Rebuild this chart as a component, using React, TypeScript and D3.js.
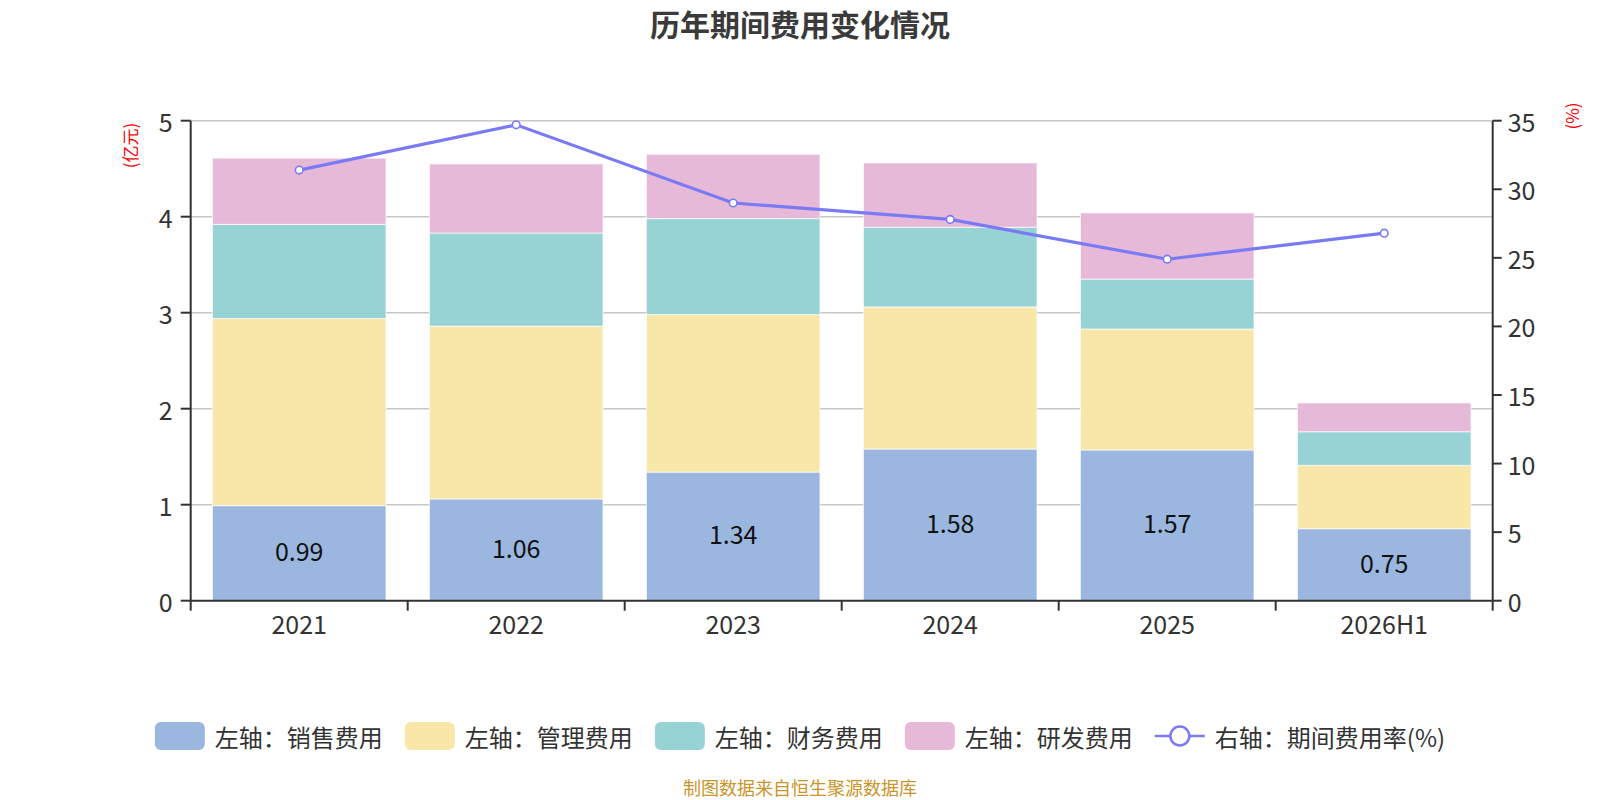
import React, { useEffect, useRef } from 'react';
import * as d3 from 'd3';

// categories and series (亿元 / %)
const years = ['2021', '2022', '2023', '2024', '2025', '2026H1'];
const salesCost = [0.99, 1.06, 1.34, 1.58, 1.57, 0.75];
const mgmtCost = [1.95, 1.8, 1.64, 1.48, 1.26, 0.66];
const financeCost = [0.98, 0.97, 1.0, 0.83, 0.52, 0.35];
const rdCost = [0.69, 0.72, 0.67, 0.67, 0.69, 0.3];
const expenseRate = [31.4, 34.7, 29.0, 27.8, 24.9, 26.8];

const leftTicks = [0, 1, 2, 3, 4, 5];
const rightTicks = [0, 5, 10, 15, 20, 25, 30, 35];

const seriesNames = ['左轴：销售费用', '左轴：管理费用', '左轴：财务费用', '左轴：研发费用'];
const lineName = '右轴：期间费用率(%)';
const colors = ['#9bb7e0', '#f8e7a8', '#97d3d4', '#e7b9d8'];
const lineColor = '#7a7af5';

const FONT = '"Noto Sans CJK SC", "Noto Sans", sans-serif';

const App: React.FC = () => {
  const svgRef = useRef<SVGSVGElement>(null);

  useEffect(() => {
    const svg = d3.select(svgRef.current);
    svg.selectAll('*').remove();

    const left = 190.7;
    const right = 1492.7;
    const top = 120.7;
    const bottom = 600.7;

    const x = d3.scaleBand<string>()
      .domain(years)
      .range([left, right])
      .paddingInner(0.2)
      .paddingOuter(0.1);
    const xTick = d3.scaleBand<string>().domain(years).range([left, right]);

    const yL = d3.scaleLinear().domain([0, 5]).range([bottom, top]);
    const yR = d3.scaleLinear().domain([0, 35]).range([bottom, top]);

    // title
    svg.append('text')
      .attr('x', 800)
      .attr('y', 23)
      .attr('text-anchor', 'middle')
      .attr('dominant-baseline', 'central')
      .style('font-family', FONT)
      .style('font-size', '30px')
      .style('font-weight', 'bold')
      .style('fill', '#3a3a3a')
      .text('历年期间费用变化情况');

    // grid lines
    svg.append('g')
      .selectAll('line')
      .data(leftTicks.slice(1))
      .enter()
      .append('line')
      .attr('x1', left)
      .attr('x2', right)
      .attr('y1', d => yL(d))
      .attr('y2', d => yL(d))
      .attr('stroke', '#c8c8c8')
      .attr('stroke-width', 1.6);

    // stacked bars
    const rows = years.map((yr, i) => ({
      year: yr,
      s0: salesCost[i],
      s1: mgmtCost[i],
      s2: financeCost[i],
      s3: rdCost[i],
    }));
    const stack = d3.stack<any>().keys(['s0', 's1', 's2', 's3'])(rows);

    stack.forEach((layer, li) => {
      svg.append('g')
        .selectAll('rect')
        .data(layer)
        .enter()
        .append('rect')
        .attr('x', d => x(d.data.year) || 0)
        .attr('width', x.bandwidth())
        .attr('y', d => yL(d[1]))
        .attr('height', d => yL(d[0]) - yL(d[1]))
        .attr('fill', colors[li])
        .attr('stroke', 'rgba(255,255,255,0.7)')
        .attr('stroke-width', 1);
    });

    // value labels on sales
    svg.append('g')
      .selectAll('text')
      .data(stack[0])
      .enter()
      .append('text')
      .attr('x', d => (x(d.data.year) || 0) + x.bandwidth() / 2)
      .attr('y', d => (yL(d[0]) + yL(d[1])) / 2 - 3)
      .attr('text-anchor', 'middle')
      .attr('dominant-baseline', 'central')
      .style('font-family', FONT)
      .style('font-size', '25px')
      .style('fill', '#111')
      .text(d => d3.format('.2f')(d[1] - d[0]));

    // axes
    const axisColor = '#333';
    const lab = { size: '25px', color: '#333' };

    // left axis line + ticks
    svg.append('line')
      .attr('x1', left).attr('x2', left)
      .attr('y1', top).attr('y2', bottom)
      .attr('stroke', axisColor).attr('stroke-width', 2);
    const lt = svg.append('g');
    leftTicks.forEach(t => {
      lt.append('line')
        .attr('x1', left - 10).attr('x2', left)
        .attr('y1', yL(t)).attr('y2', yL(t))
        .attr('stroke', axisColor).attr('stroke-width', 2);
      lt.append('text')
        .attr('x', left - 18)
        .attr('y', yL(t))
        .attr('text-anchor', 'end')
        .attr('dominant-baseline', 'central')
        .style('font-family', FONT)
        .style('font-size', lab.size)
        .style('fill', lab.color)
        .text(t);
    });

    // right axis line + ticks
    svg.append('line')
      .attr('x1', right).attr('x2', right)
      .attr('y1', top).attr('y2', bottom)
      .attr('stroke', axisColor).attr('stroke-width', 2);
    const rt = svg.append('g');
    rightTicks.forEach(t => {
      rt.append('line')
        .attr('x1', right).attr('x2', right + 9)
        .attr('y1', yR(t)).attr('y2', yR(t))
        .attr('stroke', axisColor).attr('stroke-width', 2);
      rt.append('text')
        .attr('x', right + 15)
        .attr('y', yR(t))
        .attr('text-anchor', 'start')
        .attr('dominant-baseline', 'central')
        .style('font-family', FONT)
        .style('font-size', lab.size)
        .style('fill', lab.color)
        .text(t);
    });

    // x axis
    svg.append('line')
      .attr('x1', left).attr('x2', right)
      .attr('y1', bottom).attr('y2', bottom)
      .attr('stroke', axisColor).attr('stroke-width', 2);
    const xt = svg.append('g');
    const tickXs = years.map(yr => xTick(yr) || 0).concat([right]);
    tickXs.forEach(tx => {
      xt.append('line')
        .attr('x1', tx).attr('x2', tx)
        .attr('y1', bottom).attr('y2', bottom + 10)
        .attr('stroke', axisColor).attr('stroke-width', 2);
    });
    years.forEach(yr => {
      xt.append('text')
        .attr('x', (x(yr) || 0) + x.bandwidth() / 2)
        .attr('y', 634)
        .attr('text-anchor', 'middle')
        .style('font-family', FONT)
        .style('font-size', lab.size)
        .style('fill', lab.color)
        .text(yr);
    });

    // unit labels
    svg.append('text')
      .attr('transform', 'translate(129,145.5) rotate(-90)')
      .attr('text-anchor', 'middle')
      .attr('dominant-baseline', 'central')
      .style('font-family', FONT)
      .style('font-size', '17px')
      .style('fill', 'red')
      .text('(亿元)');
    svg.append('text')
      .attr('transform', 'translate(1571,116) rotate(-90)')
      .attr('text-anchor', 'middle')
      .attr('dominant-baseline', 'central')
      .style('font-family', FONT)
      .style('font-size', '17px')
      .style('fill', 'red')
      .text('(%)');

    // rate line
    const line = d3.line<number>()
      .x((_, i) => (x(years[i]) || 0) + x.bandwidth() / 2)
      .y(d => yR(d));
    svg.append('path')
      .datum(expenseRate)
      .attr('fill', 'none')
      .attr('stroke', lineColor)
      .attr('stroke-width', 3.2)
      .attr('d', line);
    svg.append('g')
      .selectAll('circle')
      .data(expenseRate)
      .enter()
      .append('circle')
      .attr('cx', (_, i) => (x(years[i]) || 0) + x.bandwidth() / 2)
      .attr('cy', d => yR(d))
      .attr('r', 3.8)
      .attr('fill', '#fff')
      .attr('stroke', lineColor)
      .attr('stroke-width', 1.6);

    // legend
    const legendY = 736;
    const legend = svg.append('g');
    const items = seriesNames.map((n, i) => ({ name: n, color: colors[i], line: false }))
      .concat([{ name: lineName, color: lineColor, line: true }]);
    const iconW = 50;
    const gapIcon = 10;
    const gapItem = 22;
    const groups = items.map(it => {
      const g = legend.append('g');
      if (it.line) {
        g.append('line')
          .attr('x1', 0).attr('x2', iconW)
          .attr('y1', legendY).attr('y2', legendY)
          .attr('stroke', it.color).attr('stroke-width', 2.5);
        g.append('circle')
          .attr('cx', iconW / 2).attr('cy', legendY)
          .attr('r', 9.5)
          .attr('fill', '#fff')
          .attr('stroke', it.color).attr('stroke-width', 2.5);
      } else {
        g.append('rect')
          .attr('x', 0).attr('y', legendY - 14)
          .attr('width', iconW).attr('height', 28)
          .attr('rx', 6)
          .attr('fill', it.color);
      }
      const t = g.append('text')
        .attr('x', iconW + gapIcon)
        .attr('y', legendY)
        .attr('dominant-baseline', 'central')
        .style('font-family', FONT)
        .style('font-size', '24px')
        .style('fill', '#333')
        .text(it.name);
      const w = (t.node() as SVGTextElement).getComputedTextLength();
      return { g, w: iconW + gapIcon + w };
    });
    const total = d3.sum(groups, d => d.w) + gapItem * (groups.length - 1);
    let cx = 800 - total / 2;
    groups.forEach(gr => {
      gr.g.attr('transform', `translate(${cx},0)`);
      cx += gr.w + gapItem;
    });

    // footer
    svg.append('text')
      .attr('x', 800)
      .attr('y', 787)
      .attr('text-anchor', 'middle')
      .attr('dominant-baseline', 'central')
      .style('font-family', FONT)
      .style('font-size', '18px')
      .style('fill', '#c9952b')
      .text('制图数据来自恒生聚源数据库');
  }, []);

  return (
    <svg
      ref={svgRef}
      width={1600}
      height={800}
      style={{ position: 'absolute', left: 0, top: 0, background: '#fff' }}
    />
  );
};

export default App;
